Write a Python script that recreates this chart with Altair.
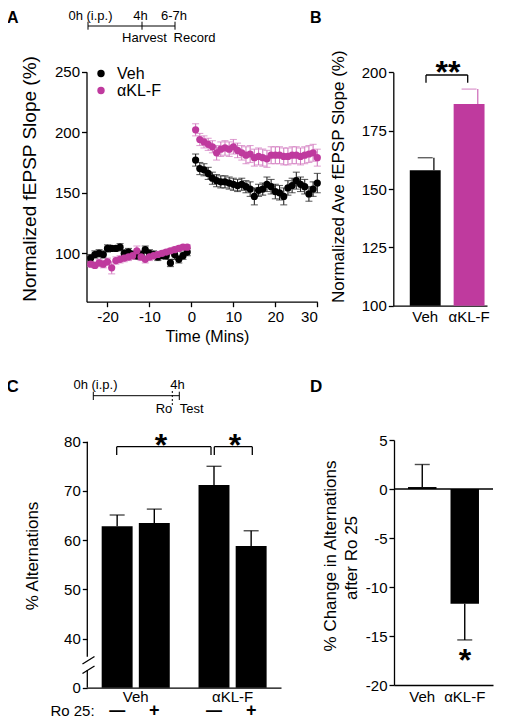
import altair as alt
import pandas as pd

FONT = "Liberation Sans"
BLACK = "#000000"
MAG = "#bf3a9e"
MAG_ERR = "#d37cc1"
W, H = 489, 711


def px(v):
    return v - 8


# ---------------- Panel A data ----------------
t_pre = list(range(-24, 0))
t_post = list(range(1, 31))
veh_pre = [96, 99, 100, 99, 104, 104, 104, 105, 100, 101, 99, 98, 99, 103, 100, 99, 97, 98, 98, 92, 99, 95, 98, 101]
veh_pre_sem = [3, 3, 3, 3, 3, 2, 2, 3, 3, 3, 3, 3, 3, 3, 3, 3, 3, 2, 3, 3, 4, 3, 3, 3]
mag_pre = [91, 90, 92, 91, 93, 88, 94, 95, 96, 97, 98, 102, 97, 95, 97, 98, 99, 100, 101, 102, 103, 104, 105, 105]
mag_pre_sem = [2, 2, 3, 3, 3, 5, 3, 3, 3, 3, 3, 4, 3, 3, 3, 3, 2, 2, 2, 2, 2, 2, 2, 2]
veh_post = [177, 170, 169, 166, 162, 160, 159, 159, 158, 157, 156, 157, 155, 153, 147, 152, 153, 157, 155, 151,
            150, 147, 154, 156, 160, 157, 155, 149, 153, 158]
veh_post_sem = [5, 5, 5, 5, 5, 5, 5, 5, 5, 5, 5, 5, 5, 6, 7, 5, 5, 6, 6, 6, 6, 7, 6, 6, 7, 6, 6, 6, 6, 8]
mag_post = [202, 194, 192, 190, 188, 183, 186, 187, 186, 188, 185, 183, 181, 182, 179, 180, 179, 178, 181, 181,
            181, 180, 180, 181, 181, 180, 181, 182, 183, 179]
mag_post_sem = [5, 5, 5, 5, 5, 6, 6, 6, 6, 6, 6, 6, 7, 7, 7, 7, 7, 7, 7, 7, 7, 7, 7, 7, 7, 7, 7, 7, 7, 7]
a_ticks_x = [-20, -10, 0, 10, 20, 30]
a_ticks_y = [100, 150, 200, 250]

# ---------------- Panel B data ----------------
groups = ["Veh", "αKL-F"]
b_mean = [158.0, 186.4]
b_sem = [5.4, 6.4]
b_ticks = [100, 125, 150, 175, 200]

# ---------------- Panel C data ----------------
c_group = ["Veh", "Veh", "αKL-F", "αKL-F"]
c_ro = ["—", "+", "—", "+"]
c_mean = [62.8, 63.5, 71.2, 58.8]
c_sem = [2.3, 2.8, 3.8, 3.1]
c_ticks = [30, 40, 50, 60, 70, 80]

# ---------------- Panel D data ----------------
d_mean = [0.2, -11.7]
d_sem = [2.3, 3.7]
d_ticks = [-20, -15, -10, -5, 0, 5]

one = pd.DataFrame({"k": [0]})


def T(text, x, y, size=15, align="center", bold=False, angle=None, baseline="alphabetic"):
    kw = dict(text=text, font=FONT, fontSize=size, align=align, baseline=baseline, color=BLACK)
    if bold:
        kw["fontWeight"] = "bold"
    if angle is not None:
        kw["angle"] = angle
    return alt.Chart(one).mark_text(**kw).encode(x=alt.value(px(x)), y=alt.value(px(y)))


def R(x1, y1, x2, y2, width=1.3, color=BLACK, dash=None):
    kw = dict(color=color, strokeWidth=width)
    if dash:
        kw["strokeDash"] = dash
    return alt.Chart(one).mark_rule(**kw).encode(
        x=alt.value(px(x1)), y=alt.value(px(y1)), x2=alt.value(px(x2)), y2=alt.value(px(y2)))


def ax(orient, offset, values=None, ticks=True, label_expr=None, pad=2, domain=True):
    kw = dict(orient=orient, offset=offset, title=None, grid=False, labelFont=FONT, labelFontSize=15,
              labelColor=BLACK, domainColor=BLACK, tickColor=BLACK, domainWidth=1.3, tickWidth=1.3,
              tickSize=5, ticks=ticks, labelPadding=pad, domain=domain, labelAngle=0)
    if values is not None:
        kw["values"] = values
    if label_expr:
        kw["labelExpr"] = label_expr
    return alt.Axis(**kw)


# ---------------- scales ----------------
xA = alt.Scale(domain=[-25, 30], range=[px(86.5), px(317.3)], nice=False, zero=False)
yA = alt.Scale(domain=[60, 250], range=[px(301.7), px(71.7)], nice=False, zero=False)
xB = alt.Scale(type="band", domain=groups, range=[px(393.3), px(487)], paddingInner=0.2955,
               paddingOuter=0.216, align=0.87)
yB = alt.Scale(domain=[100, 200], range=[px(305.7), px(72.3)], nice=False, zero=False)
xC = alt.Scale(type="band", domain=groups, range=[px(87.3), px(281)], paddingInner=0, paddingOuter=0)
xOffC = alt.Scale(type="band", domain=["—", "+"], paddingInner=0.167, paddingOuter=0.387)
yC = alt.Scale(domain=[30, 80], range=[px(687.7), px(441.7)], nice=False, zero=False)
xD = alt.Scale(type="band", domain=groups, range=[px(394), px(493)], paddingInner=0.33,
               paddingOuter=0.33, align=0.5)
yD = alt.Scale(domain=[-20, 5], range=[px(685), px(440)], nice=False, zero=False)

ptColor = alt.Scale(domain=groups, range=[BLACK, MAG])
errColor = alt.Scale(domain=groups, range=["#222222", MAG_ERR])

layers = []

# ---------------- Panel A ----------------
dfA = pd.DataFrame({
    "t": t_pre + t_post + t_pre + t_post,
    "v": veh_pre + veh_post + mag_pre + mag_post,
    "sem": veh_pre_sem + veh_post_sem + mag_pre_sem + mag_post_sem,
    "group": ["Veh"] * 54 + ["αKL-F"] * 54,
})
baseA = alt.Chart(dfA).transform_calculate(lo="datum.v - datum.sem", hi="datum.v + datum.sem")
layers.append(baseA.mark_rule(strokeWidth=1.1).encode(
    x=alt.X("t:Q", scale=xA, axis=None),
    y=alt.Y("lo:Q", scale=yA, axis=None), y2="hi:Q",
    color=alt.Color("group:N", scale=errColor, legend=None)))
for f in ["lo", "hi"]:
    layers.append(baseA.mark_tick(orient="horizontal", size=7, thickness=1.1).encode(
        x=alt.X("t:Q", scale=xA, axis=None),
        y=alt.Y(f + ":Q", scale=yA, axis=None),
        color=alt.Color("group:N", scale=errColor, legend=None)))
layers.append(baseA.mark_circle(size=52, opacity=1).encode(
    x=alt.X("t:Q", scale=xA, axis=ax("bottom", px(301.7) - H, a_ticks_x, label_expr="'' + datum.value", pad=3)),
    y=alt.Y("v:Q", scale=yA, axis=ax("left", -px(86.5), a_ticks_y)),
    color=alt.Color("group:N", scale=ptColor, legend=alt.Legend(
        orient="none", legendX=px(93), legendY=px(65.5), title=None, symbolType="circle", symbolSize=55,
        labelFont=FONT, labelFontSize=16, labelColor=BLACK, rowPadding=1, labelOffset=8,
        symbolStrokeWidth=0))))

# ---------------- Panel B ----------------
dfB = pd.DataFrame({"group": groups, "mean": b_mean, "sem": b_sem})
baseB = alt.Chart(dfB).transform_calculate(top="datum.mean + datum.sem")
layers.append(baseB.mark_bar().encode(
    x=alt.X("group:N", scale=xB, sort=groups, axis=ax("bottom", px(305.7) - H, ticks=False, pad=4)),
    y=alt.Y("mean:Q", scale=yB, axis=ax("left", -px(393.3), b_ticks)),
    y2=alt.Y2Datum(100),
    color=alt.Color("group:N", scale=ptColor, legend=None)))
layers.append(baseB.mark_rule(strokeWidth=1.4).encode(
    x=alt.X("group:N", scale=xB, sort=groups, axis=None, bandPosition=0.78),
    y=alt.Y("mean:Q", scale=yB, axis=None), y2="top:Q",
    color=alt.Color("group:N", scale=errColor, legend=None)))
layers.append(baseB.mark_tick(orient="horizontal", size=15, thickness=1.4).encode(
    x=alt.X("group:N", scale=xB, sort=groups, axis=None, bandPosition=0.78),
    y=alt.Y("top:Q", scale=yB, axis=None),
    color=alt.Color("group:N", scale=errColor, legend=None)))

# ---------------- Panel C ----------------
dfC = pd.DataFrame({"group": c_group, "ro": c_ro, "mean": c_mean, "sem": c_sem})
baseC = alt.Chart(dfC).transform_calculate(top="datum.mean + datum.sem")
layers.append(baseC.mark_bar(color=BLACK).encode(
    x=alt.X("group:N", scale=xC, sort=groups, axis=ax("bottom", px(687.7) - H, ticks=False, pad=2)),
    xOffset=alt.XOffset("ro:N", scale=xOffC, sort=["—", "+"]),
    y=alt.Y("mean:Q", scale=yC, axis=ax("left", -px(87.3), c_ticks, domain=False,
                                         label_expr="datum.value == 30 ? '0' : '' + datum.value")),
    y2=alt.Y2Datum(30)))
layers.append(baseC.mark_rule(color=BLACK, strokeWidth=1.4).encode(
    x=alt.X("group:N", scale=xC, sort=groups, axis=None),
    xOffset=alt.XOffset("ro:N", scale=xOffC, sort=["—", "+"]),
    y=alt.Y("mean:Q", scale=yC, axis=None), y2="top:Q"))
layers.append(baseC.mark_tick(color=BLACK, orient="horizontal", size=15, thickness=1.4).encode(
    x=alt.X("group:N", scale=xC, sort=groups, axis=None),
    xOffset=alt.XOffset("ro:N", scale=xOffC, sort=["—", "+"]),
    y=alt.Y("top:Q", scale=yC, axis=None)))
for sign, size, base in [("—", 16, 715.5), ("+", 18, 716)]:
    layers.append(baseC.transform_filter(alt.datum.ro == sign).mark_text(
        font=FONT, fontSize=size, fontWeight="bold", color=BLACK, baseline="alphabetic").encode(
        x=alt.X("group:N", scale=xC, sort=groups, axis=None),
        xOffset=alt.XOffset("ro:N", scale=xOffC, sort=["—", "+"]),
        y=alt.value(px(base)), text="ro:N"))

# broken y axis of C
layers.append(R(87.3, 441.7, 87.3, 656.7))
layers.append(R(87.3, 670, 87.3, 687.7))
layers.append(R(82.5, 664, 94.5, 656.5))
layers.append(R(82.5, 673.5, 94.5, 666))

# ---------------- Panel D ----------------
dfD = pd.DataFrame({"group": groups, "mean": d_mean, "sem": d_sem})
baseD = alt.Chart(dfD).transform_calculate(end="datum.mean + (datum.mean >= 0 ? 1 : -1) * datum.sem")
layers.append(baseD.mark_bar(color=BLACK).encode(
    x=alt.X("group:N", scale=xD, sort=groups, axis=ax("bottom", px(685) - H, ticks=False, pad=4)),
    y=alt.Y("mean:Q", scale=yD, axis=ax("left", -px(394), d_ticks, label_expr="'' + datum.value")),
    y2=alt.Y2Datum(0)))
layers.append(baseD.mark_rule(color=BLACK, strokeWidth=1.4).encode(
    x=alt.X("group:N", scale=xD, sort=groups, axis=None),
    y=alt.Y("mean:Q", scale=yD, axis=None), y2="end:Q"))
layers.append(baseD.mark_tick(color=BLACK, orient="horizontal", size=15, thickness=1.4).encode(
    x=alt.X("group:N", scale=xD, sort=groups, axis=None),
    y=alt.Y("end:Q", scale=yD, axis=None)))
layers.append(R(394, 489, 493, 489))

# ---------------- annotations ----------------
# panel letters
layers += [T("A", 7, 22.5, 16, "left", True), T("B", 310, 22.5, 16, "left", True),
           T("C", 6.5, 391.7, 17, "left", True), T("D", 310, 391.7, 17, "left", True)]
# timeline A
layers += [R(88, 26, 175, 26, 1), R(88, 21.7, 88, 29.7, 1), R(142, 21.7, 142, 29.7, 1), R(175, 21.7, 175, 29.7, 1)]
layers += [T("0h (i.p.)", 90.5, 20, 13), T("4h", 140.5, 20, 13), T("6-7h", 174, 20, 13),
           T("Harvest", 144.5, 41.5, 13), T("Record", 194.5, 41.5, 13)]
# timeline C
layers += [R(93.3, 395.7, 179.3, 395.7, 1), R(93.3, 391.7, 93.3, 400, 1), R(179.3, 391.7, 179.3, 400, 1),
           R(172.3, 391, 172.3, 405, 1, dash=[2, 2])]
layers += [T("0h (i.p.)", 95.5, 389, 13), T("4h", 177.5, 389, 13), T("Ro", 164, 413, 13), T("Test", 191.7, 413, 13)]
# axis titles
layers += [T("Normalized fEPSP Slope (%)", 36, 179, 19, angle=270),
           T("Time (Mins)", 207.5, 342, 16),
           T("Normalized Ave fEPSP Slope (%)", 343.5, 176.7, 17, angle=270),
           T("% Alternations", 38, 556, 17, angle=270),
           T("% Change in Alternations", 336, 556, 17, angle=270),
           T("after Ro 25", 357, 558, 17, angle=270),
           T("Ro 25:", 72.5, 715.5, 15)]
# significance brackets
layers += [R(426, 75, 467.7, 75), R(426, 75, 426, 82.7), R(467.7, 75, 467.7, 82.7),
           T("**", 448, 83, 32, bold=True)]
layers += [R(116.7, 446.7, 211, 446.7), R(116.7, 446.7, 116.7, 455), R(211, 446.7, 211, 455),
           R(214.3, 446.7, 252.3, 446.7), R(214.3, 446.7, 214.3, 455), R(252.3, 446.7, 252.3, 455),
           T("*", 161, 456, 32, bold=True), T("*", 235, 456, 32, bold=True),
           T("*", 465, 671, 32, bold=True)]

chart = alt.layer(*layers).resolve_scale(
    x="independent", y="independent", color="independent"
).properties(
    width=W, height=H, padding=0, autosize=alt.AutoSizeParams(type="none")
).configure_view(stroke=None)

chart.save("out.html", embed_options={"renderer": "svg", "actions": False})
